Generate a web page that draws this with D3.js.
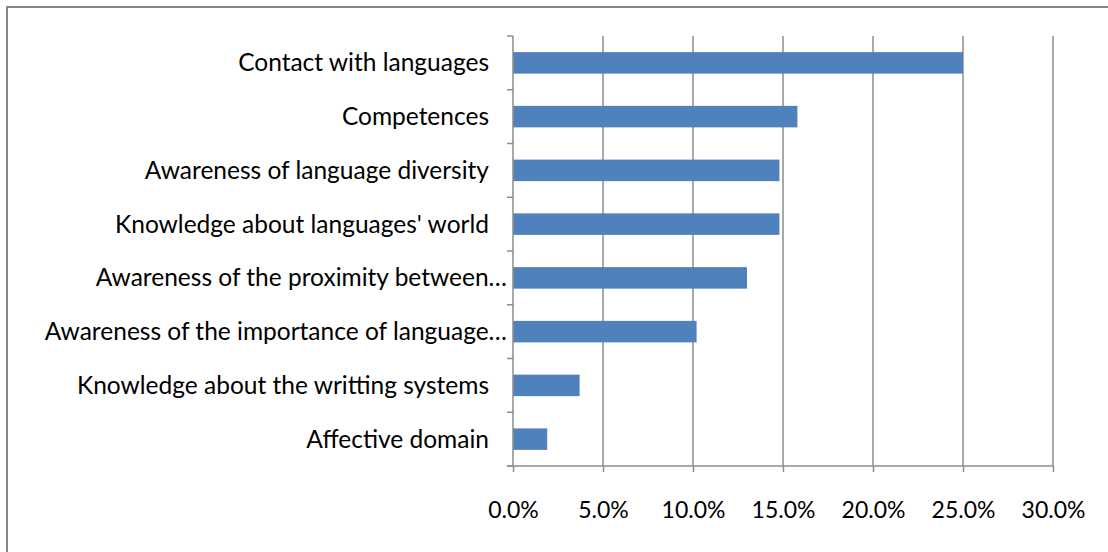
<!DOCTYPE html>
<html>
<head>
<meta charset="utf-8">
<script src="https://cdn.jsdelivr.net/npm/d3@7"></script>
<style>
  body { margin: 0; background: #fff; }
  text { font-family: Lato, "Open Sans", sans-serif; fill: #000; }
</style>
</head>
<body>
<script>
// categories, top to bottom
const categories = [
    'Contact with languages',
    'Competences',
    'Awareness of language diversity',
    "Knowledge about languages' world",
    'Awareness of the proximity between…',
    'Awareness of the importance of language…',
    'Knowledge about the writting systems',
    'Affective domain'
];
const values = [25.0, 15.8, 14.8, 14.8, 13.0, 10.2, 3.7, 1.9];
const xTicks = [0, 5, 10, 15, 20, 25, 30];

const w = 1108;
const h = 552;
const margin = { top: 36, right: 55, bottom: 86, left: 513 };
const innerWidth = w - margin.left - margin.right;
const innerHeight = h - margin.top - margin.bottom;

const svg = d3.select('body').append('svg')
    .attr('width', w)
    .attr('height', h);

// outer chart border (runs off the right/bottom edges)
svg.append('rect')
    .attr('x', 7).attr('y', 7)
    .attr('width', 1200).attr('height', 700)
    .attr('fill', 'none')
    .attr('stroke', '#868686')
    .attr('stroke-width', 2);

const g = svg.append('g')
    .attr('transform', `translate(${margin.left},${margin.top})`);

const xScale = d3.scaleLinear()
    .domain([0, 30])
    .range([0, innerWidth]);

const yScale = d3.scaleBand()
    .domain(categories)
    .range([0, innerHeight])
    .paddingInner(0.6)
    .paddingOuter(0.3);

// vertical gridlines
g.selectAll('.grid')
    .data(xTicks.slice(1))
    .enter()
    .append('line')
    .attr('x1', d => xScale(d)).attr('x2', d => xScale(d))
    .attr('y1', 0).attr('y2', innerHeight)
    .attr('stroke', '#8c8c8c')
    .attr('stroke-width', 1.5);

// bars
g.selectAll('.bar')
    .data(values)
    .enter()
    .append('rect')
    .attr('class', 'bar')
    .attr('x', xScale(0))
    .attr('y', (d, i) => yScale(categories[i]))
    .attr('width', d => xScale(d) - xScale(0))
    .attr('height', yScale.bandwidth())
    .attr('fill', '#4f81bd');

// x axis
const xAxis = d3.axisBottom(xScale)
    .tickValues(xTicks)
    .tickSize(6)
    .tickPadding(30)
    .tickFormat(d => d.toFixed(1) + '%');

const xAxisG = g.append('g')
    .attr('transform', `translate(0,${innerHeight})`)
    .call(xAxis);
xAxisG.select('.domain').remove();
xAxisG.append('line')
    .attr('x1', -6).attr('x2', innerWidth)
    .attr('stroke', '#8c8c8c').attr('stroke-width', 1.5);
xAxisG.selectAll('.tick line').attr('stroke', '#8c8c8c').attr('stroke-width', 1.5);
xAxisG.selectAll('.tick text')
    .style('font-size', '23px')
    .attr('fill', '#000');

// y axis line + boundary ticks
const step = innerHeight / categories.length;
const yBounds = d3.range(categories.length + 1).map(i => i * step);
g.append('line')
    .attr('x1', 0).attr('x2', 0)
    .attr('y1', 0).attr('y2', innerHeight)
    .attr('stroke', '#8c8c8c').attr('stroke-width', 1.5);
g.selectAll('.ytick')
    .data(yBounds)
    .enter()
    .append('line')
    .attr('x1', -6).attr('x2', 0)
    .attr('y1', d => d).attr('y2', d => d)
    .attr('stroke', '#8c8c8c').attr('stroke-width', 1.5);

// category labels
g.selectAll('.label')
    .data(categories)
    .enter()
    .append('text')
    .attr('x', d => d.endsWith('…') ? -6 : -24)
    .attr('y', d => yScale(d) + yScale.bandwidth() / 2)
    .attr('dy', '0.35em')
    .attr('text-anchor', 'end')
    .style('font-size', '24.5px')
    .text(d => d);
</script>
</body>
</html>
